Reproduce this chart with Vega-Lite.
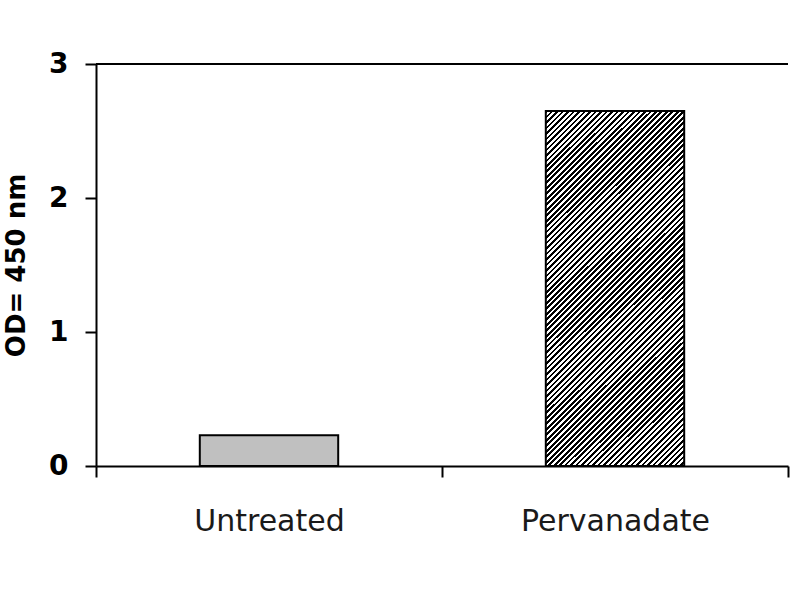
{
  "$schema": "https://vega.github.io/schema/vega-lite/v6.json",
  "width": 692,
  "height": 402,
  "autosize": "none",
  "padding": {"left": 96, "top": 64, "right": 12, "bottom": 134},
  "background": "white",
  "config": {"view": {"stroke": null}, "font": "DejaVu Sans"},
  "data": {"values": [
    {"group": "Untreated", "od": 0.23},
    {"group": "Pervanadate", "od": 2.65}
  ]},
  "layer": [
    {
      "mark": {"type": "bar", "stroke": "black", "strokeWidth": 2, "width": {"band": 0.4}},
      "encoding": {
        "x": {
          "field": "group", "type": "nominal", "sort": ["Untreated", "Pervanadate"],
          "scale": {"paddingInner": 0, "paddingOuter": 0},
          "axis": {"title": null, "labelAngle": 0, "labelLimit": 0, "tickBand": "extent", "tickSize": 11, "tickWidth": 2, "tickColor": "black", "domainColor": "black", "domainWidth": 2, "labelFont": "DejaVu Sans", "labelFontSize": 30, "labelFontWeight": "normal", "labelColor": "#1a1a1a", "labelPadding": 29, "labelBaseline": "top"}
        },
        "y": {
          "field": "od", "type": "quantitative",
          "scale": {"domain": [0, 3], "nice": false},
          "axis": {"title": "OD= 450 nm", "values": [0, 1, 2, 3], "format": "d", "grid": false, "tickSize": 11, "tickWidth": 2, "tickColor": "black", "domainColor": "black", "domainWidth": 2, "labelFont": "DejaVu Sans", "labelFontSize": 28, "labelFontWeight": "bold", "labelColor": "black", "labelPadding": 17, "titleFont": "DejaVu Sans", "titleFontSize": 26, "titleFontWeight": "bold", "titleColor": "black", "titlePadding": 19}
        },
        "fill": {
          "condition": {
            "test": "datum.group === 'Pervanadate'",
            "value": {"gradient": "linear", "x1": 0, "y1": 0, "x2": 0.469, "y2": 1.206, "stops": [
{"offset":0,"color":"#000"},{"offset":0.0056,"color":"#000"},{"offset":0.0056,"color":"#fff"},{"offset":0.0111,"color":"#fff"},{"offset":0.0111,"color":"#000"},{"offset":0.0167,"color":"#000"},{"offset":0.0167,"color":"#fff"},{"offset":0.0222,"color":"#fff"},{"offset":0.0222,"color":"#000"},{"offset":0.0278,"color":"#000"},{"offset":0.0278,"color":"#fff"},{"offset":0.0333,"color":"#fff"},{"offset":0.0333,"color":"#000"},{"offset":0.0389,"color":"#000"},{"offset":0.0389,"color":"#fff"},{"offset":0.0444,"color":"#fff"},{"offset":0.0444,"color":"#000"},{"offset":0.05,"color":"#000"},{"offset":0.05,"color":"#fff"},{"offset":0.0556,"color":"#fff"},{"offset":0.0556,"color":"#000"},{"offset":0.0611,"color":"#000"},{"offset":0.0611,"color":"#fff"},{"offset":0.0667,"color":"#fff"},{"offset":0.0667,"color":"#000"},{"offset":0.0722,"color":"#000"},{"offset":0.0722,"color":"#fff"},{"offset":0.0778,"color":"#fff"},{"offset":0.0778,"color":"#000"},{"offset":0.0833,"color":"#000"},{"offset":0.0833,"color":"#fff"},{"offset":0.0889,"color":"#fff"},{"offset":0.0889,"color":"#000"},{"offset":0.0944,"color":"#000"},{"offset":0.0944,"color":"#fff"},{"offset":0.1,"color":"#fff"},
{"offset":0.1,"color":"#000"},{"offset":0.1056,"color":"#000"},{"offset":0.1056,"color":"#fff"},{"offset":0.1111,"color":"#fff"},{"offset":0.1111,"color":"#000"},{"offset":0.1167,"color":"#000"},{"offset":0.1167,"color":"#fff"},{"offset":0.1222,"color":"#fff"},{"offset":0.1222,"color":"#000"},{"offset":0.1278,"color":"#000"},{"offset":0.1278,"color":"#fff"},{"offset":0.1333,"color":"#fff"},{"offset":0.1333,"color":"#000"},{"offset":0.1389,"color":"#000"},{"offset":0.1389,"color":"#fff"},{"offset":0.1444,"color":"#fff"},{"offset":0.1444,"color":"#000"},{"offset":0.15,"color":"#000"},{"offset":0.15,"color":"#fff"},{"offset":0.1556,"color":"#fff"},{"offset":0.1556,"color":"#000"},{"offset":0.1611,"color":"#000"},{"offset":0.1611,"color":"#fff"},{"offset":0.1667,"color":"#fff"},{"offset":0.1667,"color":"#000"},{"offset":0.1722,"color":"#000"},{"offset":0.1722,"color":"#fff"},{"offset":0.1778,"color":"#fff"},{"offset":0.1778,"color":"#000"},{"offset":0.1833,"color":"#000"},{"offset":0.1833,"color":"#fff"},{"offset":0.1889,"color":"#fff"},{"offset":0.1889,"color":"#000"},{"offset":0.1944,"color":"#000"},{"offset":0.1944,"color":"#fff"},{"offset":0.2,"color":"#fff"},
{"offset":0.2,"color":"#000"},{"offset":0.2056,"color":"#000"},{"offset":0.2056,"color":"#fff"},{"offset":0.2111,"color":"#fff"},{"offset":0.2111,"color":"#000"},{"offset":0.2167,"color":"#000"},{"offset":0.2167,"color":"#fff"},{"offset":0.2222,"color":"#fff"},{"offset":0.2222,"color":"#000"},{"offset":0.2278,"color":"#000"},{"offset":0.2278,"color":"#fff"},{"offset":0.2333,"color":"#fff"},{"offset":0.2333,"color":"#000"},{"offset":0.2389,"color":"#000"},{"offset":0.2389,"color":"#fff"},{"offset":0.2444,"color":"#fff"},{"offset":0.2444,"color":"#000"},{"offset":0.25,"color":"#000"},{"offset":0.25,"color":"#fff"},{"offset":0.2556,"color":"#fff"},{"offset":0.2556,"color":"#000"},{"offset":0.2611,"color":"#000"},{"offset":0.2611,"color":"#fff"},{"offset":0.2667,"color":"#fff"},{"offset":0.2667,"color":"#000"},{"offset":0.2722,"color":"#000"},{"offset":0.2722,"color":"#fff"},{"offset":0.2778,"color":"#fff"},{"offset":0.2778,"color":"#000"},{"offset":0.2833,"color":"#000"},{"offset":0.2833,"color":"#fff"},{"offset":0.2889,"color":"#fff"},{"offset":0.2889,"color":"#000"},{"offset":0.2944,"color":"#000"},{"offset":0.2944,"color":"#fff"},{"offset":0.3,"color":"#fff"},
{"offset":0.3,"color":"#000"},{"offset":0.3056,"color":"#000"},{"offset":0.3056,"color":"#fff"},{"offset":0.3111,"color":"#fff"},{"offset":0.3111,"color":"#000"},{"offset":0.3167,"color":"#000"},{"offset":0.3167,"color":"#fff"},{"offset":0.3222,"color":"#fff"},{"offset":0.3222,"color":"#000"},{"offset":0.3278,"color":"#000"},{"offset":0.3278,"color":"#fff"},{"offset":0.3333,"color":"#fff"},{"offset":0.3333,"color":"#000"},{"offset":0.3389,"color":"#000"},{"offset":0.3389,"color":"#fff"},{"offset":0.3444,"color":"#fff"},{"offset":0.3444,"color":"#000"},{"offset":0.35,"color":"#000"},{"offset":0.35,"color":"#fff"},{"offset":0.3556,"color":"#fff"},{"offset":0.3556,"color":"#000"},{"offset":0.3611,"color":"#000"},{"offset":0.3611,"color":"#fff"},{"offset":0.3667,"color":"#fff"},{"offset":0.3667,"color":"#000"},{"offset":0.3722,"color":"#000"},{"offset":0.3722,"color":"#fff"},{"offset":0.3778,"color":"#fff"},{"offset":0.3778,"color":"#000"},{"offset":0.3833,"color":"#000"},{"offset":0.3833,"color":"#fff"},{"offset":0.3889,"color":"#fff"},{"offset":0.3889,"color":"#000"},{"offset":0.3944,"color":"#000"},{"offset":0.3944,"color":"#fff"},{"offset":0.4,"color":"#fff"},
{"offset":0.4,"color":"#000"},{"offset":0.4056,"color":"#000"},{"offset":0.4056,"color":"#fff"},{"offset":0.4111,"color":"#fff"},{"offset":0.4111,"color":"#000"},{"offset":0.4167,"color":"#000"},{"offset":0.4167,"color":"#fff"},{"offset":0.4222,"color":"#fff"},{"offset":0.4222,"color":"#000"},{"offset":0.4278,"color":"#000"},{"offset":0.4278,"color":"#fff"},{"offset":0.4333,"color":"#fff"},{"offset":0.4333,"color":"#000"},{"offset":0.4389,"color":"#000"},{"offset":0.4389,"color":"#fff"},{"offset":0.4444,"color":"#fff"},{"offset":0.4444,"color":"#000"},{"offset":0.45,"color":"#000"},{"offset":0.45,"color":"#fff"},{"offset":0.4556,"color":"#fff"},{"offset":0.4556,"color":"#000"},{"offset":0.4611,"color":"#000"},{"offset":0.4611,"color":"#fff"},{"offset":0.4667,"color":"#fff"},{"offset":0.4667,"color":"#000"},{"offset":0.4722,"color":"#000"},{"offset":0.4722,"color":"#fff"},{"offset":0.4778,"color":"#fff"},{"offset":0.4778,"color":"#000"},{"offset":0.4833,"color":"#000"},{"offset":0.4833,"color":"#fff"},{"offset":0.4889,"color":"#fff"},{"offset":0.4889,"color":"#000"},{"offset":0.4944,"color":"#000"},{"offset":0.4944,"color":"#fff"},{"offset":0.5,"color":"#fff"},
{"offset":0.5,"color":"#000"},{"offset":0.5056,"color":"#000"},{"offset":0.5056,"color":"#fff"},{"offset":0.5111,"color":"#fff"},{"offset":0.5111,"color":"#000"},{"offset":0.5167,"color":"#000"},{"offset":0.5167,"color":"#fff"},{"offset":0.5222,"color":"#fff"},{"offset":0.5222,"color":"#000"},{"offset":0.5278,"color":"#000"},{"offset":0.5278,"color":"#fff"},{"offset":0.5333,"color":"#fff"},{"offset":0.5333,"color":"#000"},{"offset":0.5389,"color":"#000"},{"offset":0.5389,"color":"#fff"},{"offset":0.5444,"color":"#fff"},{"offset":0.5444,"color":"#000"},{"offset":0.55,"color":"#000"},{"offset":0.55,"color":"#fff"},{"offset":0.5556,"color":"#fff"},{"offset":0.5556,"color":"#000"},{"offset":0.5611,"color":"#000"},{"offset":0.5611,"color":"#fff"},{"offset":0.5667,"color":"#fff"},{"offset":0.5667,"color":"#000"},{"offset":0.5722,"color":"#000"},{"offset":0.5722,"color":"#fff"},{"offset":0.5778,"color":"#fff"},{"offset":0.5778,"color":"#000"},{"offset":0.5833,"color":"#000"},{"offset":0.5833,"color":"#fff"},{"offset":0.5889,"color":"#fff"},{"offset":0.5889,"color":"#000"},{"offset":0.5944,"color":"#000"},{"offset":0.5944,"color":"#fff"},{"offset":0.6,"color":"#fff"},
{"offset":0.6,"color":"#000"},{"offset":0.6056,"color":"#000"},{"offset":0.6056,"color":"#fff"},{"offset":0.6111,"color":"#fff"},{"offset":0.6111,"color":"#000"},{"offset":0.6167,"color":"#000"},{"offset":0.6167,"color":"#fff"},{"offset":0.6222,"color":"#fff"},{"offset":0.6222,"color":"#000"},{"offset":0.6278,"color":"#000"},{"offset":0.6278,"color":"#fff"},{"offset":0.6333,"color":"#fff"},{"offset":0.6333,"color":"#000"},{"offset":0.6389,"color":"#000"},{"offset":0.6389,"color":"#fff"},{"offset":0.6444,"color":"#fff"},{"offset":0.6444,"color":"#000"},{"offset":0.65,"color":"#000"},{"offset":0.65,"color":"#fff"},{"offset":0.6556,"color":"#fff"},{"offset":0.6556,"color":"#000"},{"offset":0.6611,"color":"#000"},{"offset":0.6611,"color":"#fff"},{"offset":0.6667,"color":"#fff"},{"offset":0.6667,"color":"#000"},{"offset":0.6722,"color":"#000"},{"offset":0.6722,"color":"#fff"},{"offset":0.6778,"color":"#fff"},{"offset":0.6778,"color":"#000"},{"offset":0.6833,"color":"#000"},{"offset":0.6833,"color":"#fff"},{"offset":0.6889,"color":"#fff"},{"offset":0.6889,"color":"#000"},{"offset":0.6944,"color":"#000"},{"offset":0.6944,"color":"#fff"},{"offset":0.7,"color":"#fff"},
{"offset":0.7,"color":"#000"},{"offset":0.7056,"color":"#000"},{"offset":0.7056,"color":"#fff"},{"offset":0.7111,"color":"#fff"},{"offset":0.7111,"color":"#000"},{"offset":0.7167,"color":"#000"},{"offset":0.7167,"color":"#fff"},{"offset":0.7222,"color":"#fff"},{"offset":0.7222,"color":"#000"},{"offset":0.7278,"color":"#000"},{"offset":0.7278,"color":"#fff"},{"offset":0.7333,"color":"#fff"},{"offset":0.7333,"color":"#000"},{"offset":0.7389,"color":"#000"},{"offset":0.7389,"color":"#fff"},{"offset":0.7444,"color":"#fff"},{"offset":0.7444,"color":"#000"},{"offset":0.75,"color":"#000"},{"offset":0.75,"color":"#fff"},{"offset":0.7556,"color":"#fff"},{"offset":0.7556,"color":"#000"},{"offset":0.7611,"color":"#000"},{"offset":0.7611,"color":"#fff"},{"offset":0.7667,"color":"#fff"},{"offset":0.7667,"color":"#000"},{"offset":0.7722,"color":"#000"},{"offset":0.7722,"color":"#fff"},{"offset":0.7778,"color":"#fff"},{"offset":0.7778,"color":"#000"},{"offset":0.7833,"color":"#000"},{"offset":0.7833,"color":"#fff"},{"offset":0.7889,"color":"#fff"},{"offset":0.7889,"color":"#000"},{"offset":0.7944,"color":"#000"},{"offset":0.7944,"color":"#fff"},{"offset":0.8,"color":"#fff"},
{"offset":0.8,"color":"#000"},{"offset":0.8056,"color":"#000"},{"offset":0.8056,"color":"#fff"},{"offset":0.8111,"color":"#fff"},{"offset":0.8111,"color":"#000"},{"offset":0.8167,"color":"#000"},{"offset":0.8167,"color":"#fff"},{"offset":0.8222,"color":"#fff"},{"offset":0.8222,"color":"#000"},{"offset":0.8278,"color":"#000"},{"offset":0.8278,"color":"#fff"},{"offset":0.8333,"color":"#fff"},{"offset":0.8333,"color":"#000"},{"offset":0.8389,"color":"#000"},{"offset":0.8389,"color":"#fff"},{"offset":0.8444,"color":"#fff"},{"offset":0.8444,"color":"#000"},{"offset":0.85,"color":"#000"},{"offset":0.85,"color":"#fff"},{"offset":0.8556,"color":"#fff"},{"offset":0.8556,"color":"#000"},{"offset":0.8611,"color":"#000"},{"offset":0.8611,"color":"#fff"},{"offset":0.8667,"color":"#fff"},{"offset":0.8667,"color":"#000"},{"offset":0.8722,"color":"#000"},{"offset":0.8722,"color":"#fff"},{"offset":0.8778,"color":"#fff"},{"offset":0.8778,"color":"#000"},{"offset":0.8833,"color":"#000"},{"offset":0.8833,"color":"#fff"},{"offset":0.8889,"color":"#fff"},{"offset":0.8889,"color":"#000"},{"offset":0.8944,"color":"#000"},{"offset":0.8944,"color":"#fff"},{"offset":0.9,"color":"#fff"},
{"offset":0.9,"color":"#000"},{"offset":0.9056,"color":"#000"},{"offset":0.9056,"color":"#fff"},{"offset":0.9111,"color":"#fff"},{"offset":0.9111,"color":"#000"},{"offset":0.9167,"color":"#000"},{"offset":0.9167,"color":"#fff"},{"offset":0.9222,"color":"#fff"},{"offset":0.9222,"color":"#000"},{"offset":0.9278,"color":"#000"},{"offset":0.9278,"color":"#fff"},{"offset":0.9333,"color":"#fff"},{"offset":0.9333,"color":"#000"},{"offset":0.9389,"color":"#000"},{"offset":0.9389,"color":"#fff"},{"offset":0.9444,"color":"#fff"},{"offset":0.9444,"color":"#000"},{"offset":0.95,"color":"#000"},{"offset":0.95,"color":"#fff"},{"offset":0.9556,"color":"#fff"},{"offset":0.9556,"color":"#000"},{"offset":0.9611,"color":"#000"},{"offset":0.9611,"color":"#fff"},{"offset":0.9667,"color":"#fff"},{"offset":0.9667,"color":"#000"},{"offset":0.9722,"color":"#000"},{"offset":0.9722,"color":"#fff"},{"offset":0.9778,"color":"#fff"},{"offset":0.9778,"color":"#000"},{"offset":0.9833,"color":"#000"},{"offset":0.9833,"color":"#fff"},{"offset":0.9889,"color":"#fff"},{"offset":0.9889,"color":"#000"},{"offset":0.9944,"color":"#000"},{"offset":0.9944,"color":"#fff"},{"offset":1,"color":"#fff"}
            ]}
          },
          "value": "#c0c0c0"
        }
      }
    },
    {
      "mark": {"type": "rule", "color": "black", "strokeWidth": 2},
      "encoding": {"y": {"datum": 3, "type": "quantitative"}}
    }
  ]
}
